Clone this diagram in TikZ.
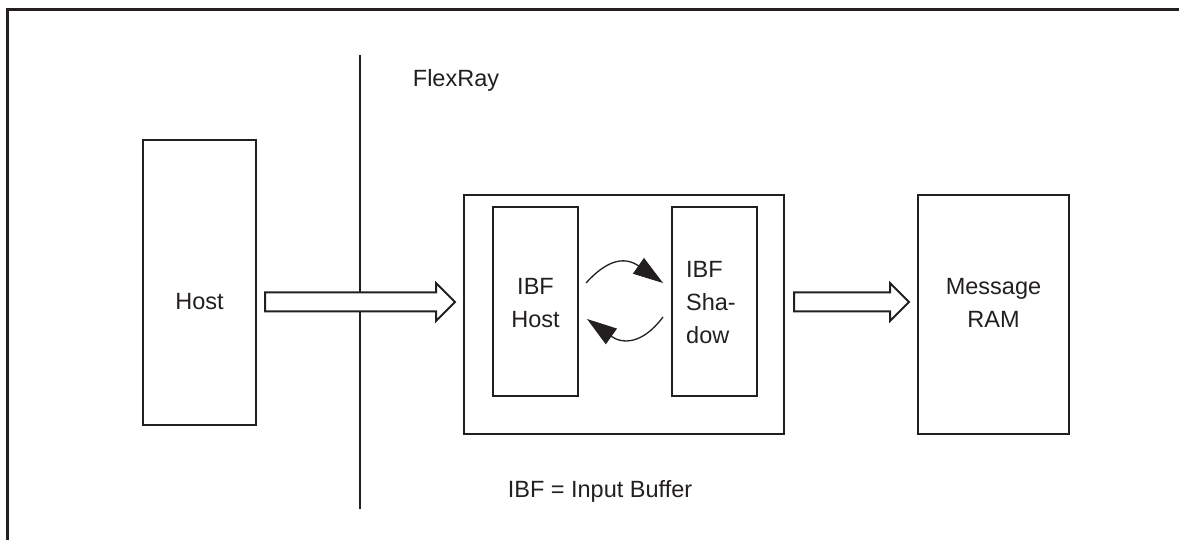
\documentclass[tikz,border=0pt]{standalone}
\usepackage{fontspec}
\setmainfont{Liberation Sans}
\usetikzlibrary{arrows.meta,calc}
\definecolor{ink}{HTML}{231F20}
\newcommand\blkarrow[2]{%
  \draw[blk] ($(#1)+(0,-9.5)$) -- ($(#2)+(-19,-9.5)$) -- ($(#2)+(-19,-19)$) -- (#2)
    -- ($(#2)+(-19,19)$) -- ($(#2)+(-19,9.5)$) -- ($(#1)+(0,9.5)$) -- cycle;}
\begin{document}
\begin{tikzpicture}[x=1pt,y=-1pt,
  box/.style={draw=ink, line width=2pt, inner sep=0pt},
  lbl/.style={text=ink, font=\fontsize{23.5}{33}\selectfont, align=center},
  blk/.style={draw=ink, line width=2pt, fill=white, line join=miter},
  curv/.style={draw=ink, line width=1.3pt, -{Triangle[length=30pt,width=19pt]}}]
\useasboundingbox (0,0) rectangle (1179,540);
% frame
\coordinate (f1) at (1179,10);
\coordinate (f2) at (7,10);
\coordinate (f3) at (7,540);
\draw[ink, line width=3pt] (f1) -- (f2) -- (f3);
% divider
\coordinate (vtop) at (360,55);
\coordinate (vbot) at (360,509);
\draw[ink, line width=2pt] (vtop) -- (vbot);
% boxes
\node[box, minimum width=113pt, minimum height=285pt] (host) at (199.5,282.5) {};
\node[lbl] (hosttxt) at (199.5,302) {Host};
\node[box, minimum width=320pt, minimum height=239pt] (outer) at (624,314.5) {};
\node[box, minimum width=85pt, minimum height=189pt] (ibfhost) at (535.5,301.5) {};
\node[lbl] (ibfhosttxt) at (535.5,303) {IBF\\Host};
\node[box, minimum width=85pt, minimum height=189pt] (ibfshadow) at (714.5,301.5) {};
\node[lbl, align=left] (shadowtxt) at (711,302.5) {IBF\\Sha-\\dow};
\node[box, minimum width=151pt, minimum height=239pt] (ram) at (993.5,314.5) {};
\node[lbl] (ramtxt) at (993.5,303) {Message\\RAM};
% texts
\node[lbl] (flexray) at (456,80) {FlexRay};
\node[lbl] (legend) at (600,491) {IBF = Input Buffer};
% block arrows
\coordinate (a1s) at (265,302);
\coordinate (a1e) at (455,302);
\blkarrow{a1s}{a1e}
\coordinate (a2s) at (794,302);
\coordinate (a2e) at (909,302);
\blkarrow{a2s}{a2e}
% curved arrows
\coordinate (c1s) at (586,283);
\coordinate (c1e) at (663,283);
\coordinate (c2s) at (663,317);
\coordinate (c2e) at (587,319);
\draw[curv] (c1s) .. controls (605,262) and (623,255) .. (c1e);
\draw[curv] (c2s) .. controls (642,345) and (622,344) .. (c2e);
\end{tikzpicture}
\end{document}
